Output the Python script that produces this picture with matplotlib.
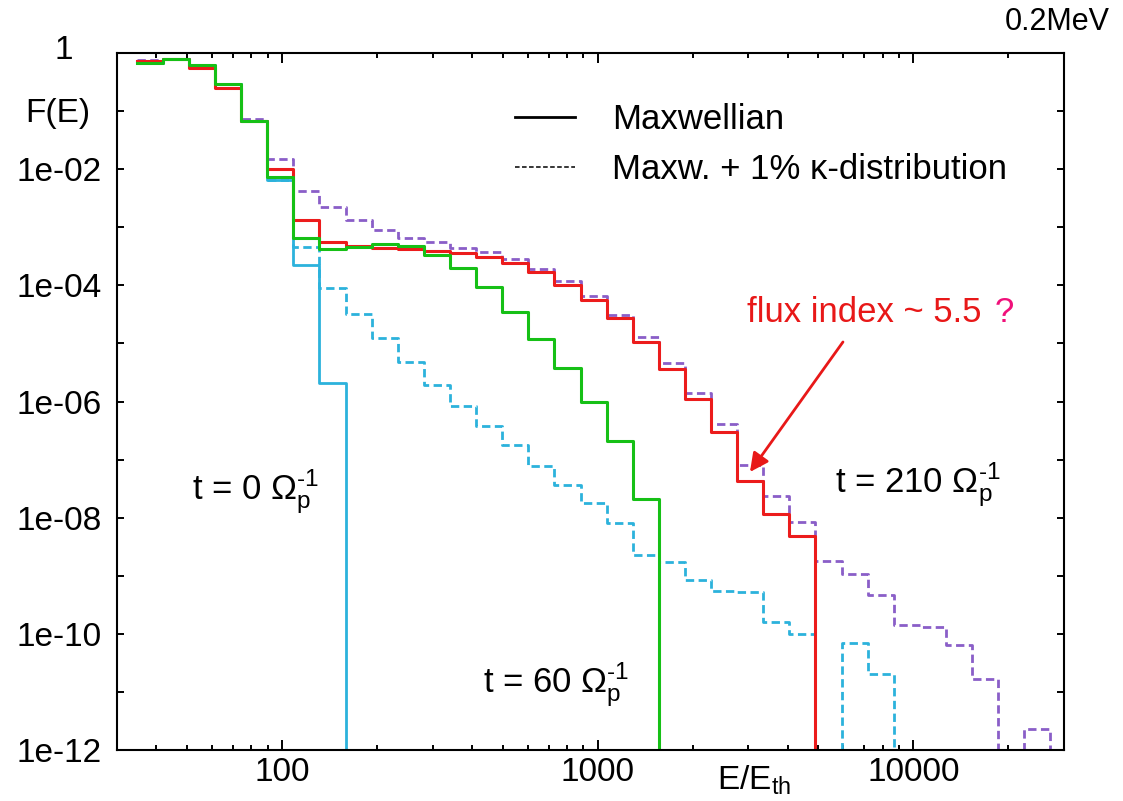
import numpy as np
import matplotlib
matplotlib.use('Agg')
import matplotlib.pyplot as plt
from matplotlib.lines import Line2D
from matplotlib.ticker import FixedLocator, LogLocator, NullFormatter, NullLocator

plt.rcParams['font.family'] = ['Liberation Sans', 'DejaVu Sans']
plt.rcParams['mathtext.fontset'] = 'custom'
plt.rcParams['mathtext.rm'] = 'Liberation Sans'
plt.rcParams['mathtext.it'] = 'Liberation Sans:italic'
plt.rcParams['mathtext.bf'] = 'Liberation Sans:bold'

# histogram bin edges in E/E_th
bin_edges = [34.6, 41.9, 50.7, 61.3, 74.2, 89.7, 108.6, 131.3, 158.9, 192.2,
             232.5, 281.3, 340.3, 411.7, 498.1, 602.6, 729.1, 882.0, 1067, 1291,
             1562, 1889, 2286, 2765, 3345, 4047, 4896, 5923, 7166, 8669,
             10487, 12687, 15349, 18569, 22465, 27178, 32879]

# F(E) per bin (0 = empty bin)
maxw_t0 = [0.675, 0.78, 0.62, 0.29, 6.84e-2, 6.5e-3, 2.21e-4, 2.08e-6, 0]

maxw_t60 = [0.675, 0.78, 0.62, 0.29, 6.84e-2, 7.35e-3, 6.53e-4, 4.28e-4, 4.63e-4, 5.09e-4,
            4.77e-4, 3.34e-4, 1.97e-4, 9.4e-5, 3.52e-5, 1.19e-5, 3.73e-6, 9.9e-7, 2.11e-7, 2.12e-8,
            0]

maxw_t210 = [0.73, 0.79, 0.55, 0.25, 6.8e-2, 9.9e-3, 1.33e-3, 5.65e-4, 4.77e-4, 4.35e-4,
             4.18e-4, 3.91e-4, 3.56e-4, 3.02e-4, 2.43e-4, 1.72e-4, 1.01e-4, 5.6e-5, 2.71e-5, 1.07e-5,
             3.59e-6, 1.10e-6, 2.95e-7, 4.29e-8, 1.16e-8, 4.84e-9, 0]

kappa_t0 = [0.675, 0.78, 0.62, 0.29, 6.84e-2, 6.5e-3, 4.52e-4, 9.12e-5, 3.21e-5, 1.22e-5,
            4.85e-6, 1.92e-6, 8.4e-7, 3.8e-7, 1.78e-7, 7.85e-8, 3.66e-8, 1.77e-8, 8.0e-9, 2.28e-9,
            1.75e-9, 8.45e-10, 5.53e-10, 5.32e-10, 1.62e-10, 1.01e-10, 0, 6.9e-11, 2.0e-11, 0]

kappa_t210 = [0.76, 0.79, 0.60, 0.29, 7.3e-2, 1.52e-2, 4.22e-3, 2.21e-3, 1.33e-3, 8.97e-4,
              6.62e-4, 5.51e-4, 4.45e-4, 3.68e-4, 2.81e-4, 1.94e-4, 1.19e-4, 6.56e-5, 3.09e-5, 1.31e-5,
              4.55e-6, 1.39e-6, 4.02e-7, 8.07e-8, 2.32e-8, 8.53e-9, 1.83e-9, 1.07e-9, 4.75e-10, 1.42e-10,
              1.31e-10, 6.43e-11, 1.65e-11, 0, 2.27e-12, 0]

RED = '#ec1c1c'
GREEN = '#16c016'
CYAN = '#2cb2dc'
PURPLE = '#8a5ec8'
DASH = (0, (3.0, 1.6))


def draw_hist(ax, vals, **kw):
    v = np.array(vals, dtype=float)
    v[v <= 0] = 1e-30   # empty bins drop off the bottom
    e = np.array(bin_edges[:len(v) + 1], dtype=float)
    ax.step(e, np.append(v, v[-1]), where='post', **kw)


fig = plt.figure(figsize=(11.23, 8.01), dpi=100)
ax = fig.add_axes([117/1123, 51/801, 947/1123, 697/801])

draw_hist(ax, kappa_t210, color=PURPLE, lw=2.0, ls=DASH)
draw_hist(ax, kappa_t0, color=CYAN, lw=2.0, ls=DASH)
draw_hist(ax, maxw_t0, color=CYAN, lw=2.0)
draw_hist(ax, maxw_t210, color=RED, lw=2.2)
draw_hist(ax, maxw_t60, color=GREEN, lw=2.2)

ax.set_xscale('log')
ax.set_yscale('log')
ax.set_xlim(30, 30000)
ax.set_ylim(1e-12, 1)

ax.xaxis.set_major_locator(FixedLocator([100, 1000, 10000]))
ax.set_xticklabels(['100', '1000', '10000'])
ax.xaxis.set_minor_locator(LogLocator(base=10, subs=np.arange(2, 10)))
ax.xaxis.set_minor_formatter(NullFormatter())

yt = [10.0**k for k in range(-12, 1)]
ylabels = ['1e-12', '', '1e-10', '', '1e-08', '', '1e-06', '', '1e-04', '', '1e-02', '', '']
ax.set_yticks(yt, labels=ylabels)
ax.yaxis.set_minor_locator(NullLocator())

ax.tick_params(which='both', direction='in', top=True, right=True, width=1.4, labelsize=24)
ax.tick_params(axis='x', which='major', length=7, pad=5)
ax.tick_params(axis='x', which='minor', length=3.5)
ax.tick_params(axis='y', which='major', length=5, pad=11)
for s in ax.spines.values():
    s.set_linewidth(1.5)

# y labels placed by hand
ax.text(-0.056, 1.004, '1', transform=ax.transAxes, ha='center', va='center', fontsize=24)
ax.text(-0.062, 0.913, 'F(E)', transform=ax.transAxes, ha='center', va='center', fontsize=24)
ax.text(0.6336, -0.019, r'E/E$_{\mathrm{th}}$', transform=ax.transAxes, ha='left', va='top', fontsize=24)
fig.text(1110/1123, 1 - 22/801, '0.2MeV', ha='right', va='center', fontsize=22)

# legend
handles = [Line2D([], [], color='black', lw=2.0),
           Line2D([], [], color='black', lw=1.1, ls=(0, (3, 1.6)))]
ax.legend(handles, ['Maxwellian', 'Maxw. + 1% κ-distribution'],
          loc='upper left', bbox_to_anchor=(0.4203, 0.928), frameon=False,
          fontsize=25, handlelength=1.74, handletextpad=1.05, labelspacing=0.48,
          borderpad=0, borderaxespad=0)

# time labels
omega = r'$\Omega_{\mathrm{p}}^{\text{-}1}$'
ax.text(0.0792, 0.3587, 't = 0 ' + omega, transform=ax.transAxes,
        ha='left', va='baseline', fontsize=25)
ax.text(0.3865, 0.0818, 't = 60 ' + omega, transform=ax.transAxes,
        ha='left', va='baseline', fontsize=25)
ax.text(0.7582, 0.3687, 't = 210 ' + omega, transform=ax.transAxes,
        ha='left', va='baseline', fontsize=25)

# flux index note
ax.text(0.6653, 0.6141, 'flux index ~ 5.5', transform=ax.transAxes, color='#e81818',
        ha='left', va='baseline', fontsize=25)
ax.text(0.9265, 0.6141, '?', transform=ax.transAxes, color='#f0107a',
        ha='left', va='baseline', fontsize=25)
ax.annotate('', xy=(0.6684, 0.3989), xytext=(0.7666, 0.5854),
            xycoords='axes fraction', textcoords='axes fraction',
            arrowprops=dict(arrowstyle='-|>', color='#e81818', lw=2.0, mutation_scale=28,
                            shrinkA=0, shrinkB=0))

fig.savefig('out.png', dpi=100)
